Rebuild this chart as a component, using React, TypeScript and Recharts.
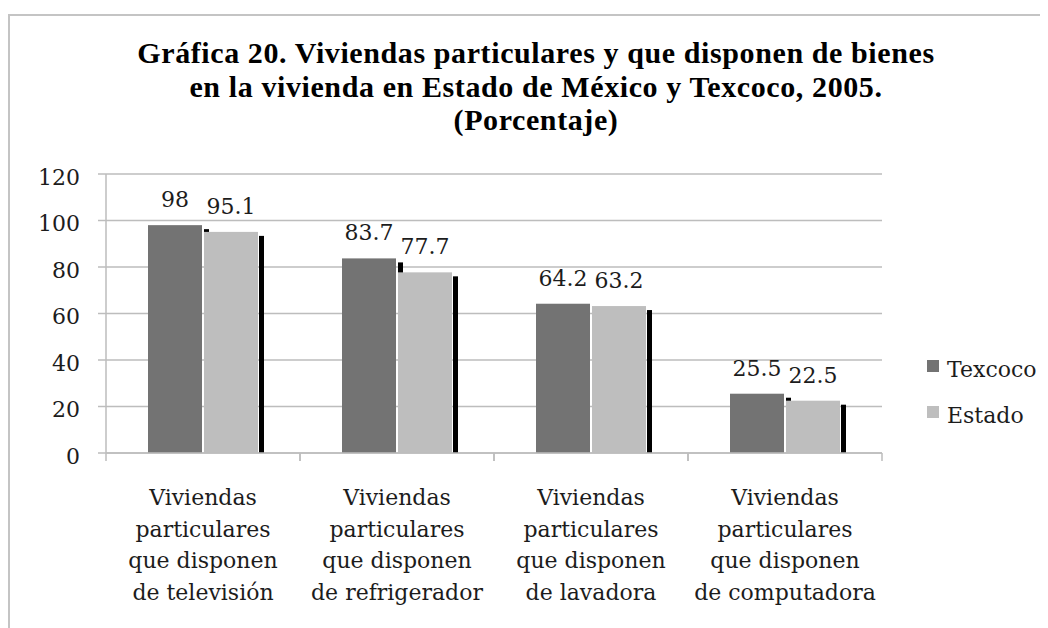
import React from "react";
import {
  BarChart,
  Bar,
  XAxis,
  YAxis,
  CartesianGrid,
  Legend,
  LabelList,
} from "recharts";

// categories (line breaks kept as in the picture)
const categories = [
  "Viviendas\nparticulares\nque disponen\nde televisión",
  "Viviendas\nparticulares\nque disponen\nde refrigerador",
  "Viviendas\nparticulares\nque disponen\nde lavadora",
  "Viviendas\nparticulares\nque disponen\nde computadora",
];
const seriesNames = ["Texcoco", "Estado"];
const texcoco = [98, 83.7, 64.2, 25.5];
const estado = [95.1, 77.7, 63.2, 22.5];
const yTicks = [0, 20, 40, 60, 80, 100, 120];

const data = categories.map((name, i) => ({
  name,
  Texcoco: texcoco[i],
  Estado: estado[i],
}));

const W = 1040;
const H = 620;
const margin = { top: 166, right: 166, bottom: 5, left: 0 };
const Y_W = 98;
const BAND = (W - margin.left - margin.right - Y_W) / categories.length;

const SERIF = '"DejaVu Serif", serif';
const TEXT = "#1c1c1c";
const GRID = "#bdbdbd";

// column with the black side face of the original 3-D look
const column = (gap: number) => (props: any) => {
  const { x, y, width, height, fill } = props;
  if (!height) return <g />;
  return (
    <g>
      <rect
        x={x + width + gap}
        y={y + 4}
        width={5}
        height={Math.max(height - 4, 0)}
        fill="#000"
      />
      <rect x={x} y={y} width={width} height={height} fill={fill} />
    </g>
  );
};

const CategoryTick = (props: any) => {
  const { x, y, payload } = props;
  const lines = String(payload.value).split("\n");
  return (
    <g>
      <line x1={x - BAND / 2} x2={x - BAND / 2} y1={y} y2={y + 8} stroke={GRID} strokeWidth={1.5} />
      <line x1={x + BAND / 2} x2={x + BAND / 2} y1={y} y2={y + 8} stroke={GRID} strokeWidth={1.5} />
      <text x={x} y={y + 52} textAnchor="middle" fill={TEXT} fontFamily={SERIF} fontSize={22}>
        {lines.map((l, i) => (
          <tspan key={i} x={x} dy={i === 0 ? 0 : 31.7}>
            {l}
          </tspan>
        ))}
      </text>
    </g>
  );
};

const LegendBox = ({ payload }: any) => {
  const items = [...(payload || [])].sort(
    (a: any, b: any) => seriesNames.indexOf(a.value) - seriesNames.indexOf(b.value)
  );
  return (
    <div>
      {items.map((p: any) => (
        <div key={p.value} style={{ height: 46, display: "flex", alignItems: "center" }}>
          <span style={{ width: 12, height: 12, background: p.color, marginRight: 8, display: "inline-block" }} />
          <span style={{ fontFamily: SERIF, fontSize: 22, color: TEXT, position: "relative", top: 3 }}>
            {p.value}
          </span>
        </div>
      ))}
    </div>
  );
};

export default function App() {
  return (
    <div style={{ position: "relative", width: W, height: H }}>
      <div
        style={{
          position: "absolute",
          left: 0,
          top: 6,
          width: W,
          height: H - 6,
          borderTop: "2px solid #c4c4c4",
          borderLeft: "2px solid #c4c4c4",
        }}
      />
      <div
        style={{
          position: "absolute",
          top: 28,
          left: 28,
          width: 1000,
          textAlign: "center",
          fontFamily: '"Liberation Serif", serif',
          fontWeight: "bold",
          fontSize: 30,
          letterSpacing: 0.6,
          lineHeight: "33.5px",
          color: "#000",
        }}
      >
        Gráfica 20. Viviendas particulares y que disponen de bienes
        <br />
        en la vivienda en Estado de México y Texcoco, 2005.
        <br />
        (Porcentaje)
      </div>
      <div style={{ position: "absolute", left: 0, top: 0 }}>
        <BarChart
          width={W}
          height={H}
          data={data}
          margin={margin}
          barCategoryGap={42}
          barGap={2}
        >
          <CartesianGrid vertical={false} stroke={GRID} strokeWidth={1.5} />
          <XAxis
            dataKey="name"
            height={170}
            interval={0}
            tickSize={0}
            tickMargin={0}
            tickLine={false}
            axisLine={{ stroke: GRID, strokeWidth: 1.5 }}
            tick={<CategoryTick />}
          />
          <YAxis
            width={Y_W}
            domain={[0, 120]}
            ticks={yTicks}
            tickSize={8}
            tickMargin={18}
            tickLine={{ stroke: GRID, strokeWidth: 1.5 }}
            axisLine={{ stroke: GRID, strokeWidth: 1.5 }}
            tick={{ fontFamily: SERIF, fontSize: 22, fill: TEXT, dy: 3 }}
          />
          <Legend
            layout="vertical"
            align="center"
            verticalAlign="middle"
            wrapperStyle={{ left: 919, top: 335, width: 120 }}
            content={<LegendBox />}
          />
          <Bar dataKey="Texcoco" fill="#737373" shape={column(2)} isAnimationActive={false}>
            <LabelList dataKey="Texcoco" position="top" offset={18} fill={TEXT} fontFamily={SERIF} fontSize={22} />
          </Bar>
          <Bar dataKey="Estado" fill="#bebebe" shape={column(1)} isAnimationActive={false}>
            <LabelList dataKey="Estado" position="top" offset={18} fill={TEXT} fontFamily={SERIF} fontSize={22} />
          </Bar>
        </BarChart>
      </div>
    </div>
  );
}
